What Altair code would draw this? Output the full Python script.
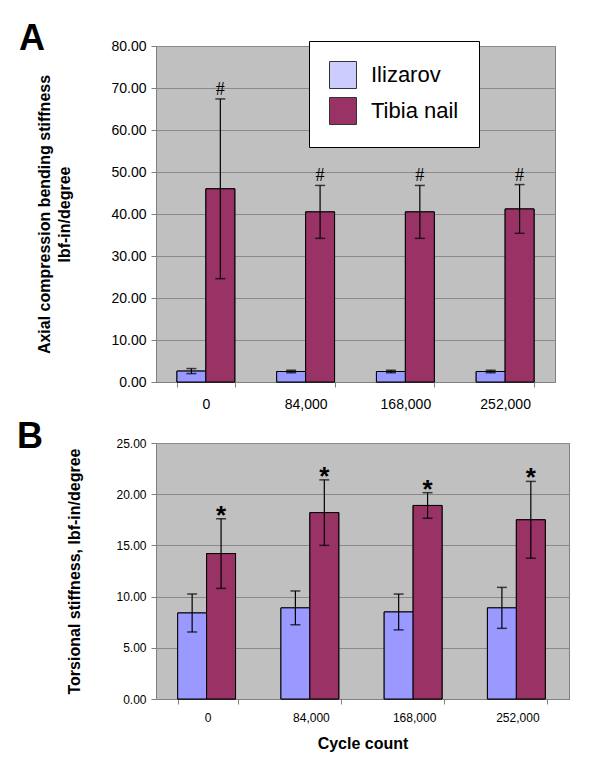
import altair as alt
import pandas as pd

cycles = ["0", "84,000", "168,000", "252,000"]
series = ["Ilizarov", "Tibia nail"]

# Panel A: axial compression bending stiffness (lbf-in/degree)
axial_ilizarov = [2.6, 2.5, 2.5, 2.5]
axial_ilizarov_err = [0.6, 0.3, 0.3, 0.3]
axial_tibia = [46.0, 40.5, 40.5, 41.2]
axial_tibia_err = [21.4, 6.3, 6.3, 5.8]
axial_marker = "#"

# Panel B: torsional stiffness (lbf-in/degree)
tors_ilizarov = [8.4, 8.9, 8.5, 8.9]
tors_ilizarov_err = [1.85, 1.65, 1.75, 2.0]
tors_tibia = [14.2, 18.2, 18.9, 17.5]
tors_tibia_err = [3.4, 3.2, 1.25, 3.75]
tors_marker = "*"

ILI_BAR = "#9999FF"
ILI_LEG = "#CCCCFF"
TIB = "#993366"
FONT = "Liberation Sans"


def make_df(ili, ili_err, tib, tib_err, marker):
    rows = []
    for c, v, e in zip(cycles, ili, ili_err):
        rows.append(dict(cycle=c, series=series[0], value=v, lo=v - e, hi=v + e, mark=""))
    for c, v, e in zip(cycles, tib, tib_err):
        rows.append(dict(cycle=c, series=series[1], value=v, lo=v - e, hi=v + e, mark=marker))
    return pd.DataFrame(rows)


def panel(df, ymax, ystep, ytitle, label_size, xtitle, title_letter, width, height,
          marker_font, marker_size, marker_weight, marker_dy, with_legend,
          ytitle_pad, xlabel_pad, letter_dx, letter_dy):
    xaxis = alt.Axis(
        labelAngle=0, labelFontSize=label_size, labelColor="black", labelFont=FONT,
        tickBand="extent", tickSize=5, tickColor="#808080", domainColor="#808080",
        labelPadding=xlabel_pad,
        title=xtitle if xtitle else None,
        titleFontSize=16, titleFont=FONT, titleFontWeight="bold", titleColor="black",
        titlePadding=12,
    )
    base = alt.Chart(df).encode(
        x=alt.X("cycle:N", sort=cycles, axis=xaxis,
                scale=alt.Scale(paddingInner=0.42, paddingOuter=0.21)),
        xOffset=alt.XOffset("series:N", sort=series,
                            scale=alt.Scale(domain=series, paddingInner=0, paddingOuter=0)),
    )
    yvals = [round(i * ystep, 2) for i in range(int(round(ymax / ystep)) + 1)]
    yenc = alt.Y(
        "value:Q",
        scale=alt.Scale(domain=[0, ymax], nice=False),
        axis=alt.Axis(
            values=yvals, format=".2f", labelFontSize=label_size, labelColor="black",
            labelFont=FONT, tickSize=5, tickColor="#808080", domainColor="#808080",
            gridColor="#8a8a8a", gridWidth=1, labelPadding=5,
            title=ytitle, titleFontSize=16, titleFont=FONT, titleFontWeight="bold",
            titleColor="black", titlePadding=ytitle_pad, titleLineHeight=20,
        ),
    )
    if with_legend:
        legend = alt.Legend(
            orient="none", legendX=153, legendY=-5, title=None,
            fillColor="white", strokeColor="black", padding=20,
            symbolType="square", symbolSize=729, symbolStrokeColor="#333333",
            symbolStrokeWidth=1, labelFontSize=22, labelFont=FONT, labelColor="black",
            labelOffset=14, rowPadding=4,
            labelExpr="datum.label + '\u2003\u2003'",
        )
    else:
        legend = None
    legend_bars = base.mark_bar(stroke="black", strokeWidth=1).encode(
        y=yenc,
        color=alt.Color("series:N", sort=series,
                        scale=alt.Scale(domain=series, range=[ILI_LEG, TIB]),
                        legend=legend),
    )
    bars = base.mark_bar(stroke="black", strokeWidth=1).encode(
        y=alt.Y("value:Q"),
        fill=alt.Fill("series:N", sort=series,
                      scale=alt.Scale(domain=series, range=[ILI_BAR, TIB]),
                      legend=None),
    )
    rules = base.mark_rule(color="black", strokeWidth=1.2).encode(
        y=alt.Y("lo:Q"), y2="hi:Q")
    cap_hi = base.mark_tick(color="black", size=10, thickness=1.5).encode(y=alt.Y("hi:Q"))
    cap_lo = base.mark_tick(color="black", size=10, thickness=1.5).encode(y=alt.Y("lo:Q"))
    marks = base.transform_filter("datum.mark != ''").mark_text(
        font=marker_font, fontSize=marker_size, fontWeight=marker_weight,
        baseline="alphabetic", dy=marker_dy, color="black",
    ).encode(y=alt.Y("hi:Q"), text="mark:N")
    layered = alt.layer(legend_bars, bars, rules, cap_hi, cap_lo, marks).resolve_scale(
        color="independent", fill="independent"
    ).properties(
        width=width, height=height,
        title=alt.TitleParams(title_letter, anchor="start", fontSize=36, font=FONT,
                              fontWeight="bold", color="black", dx=letter_dx, dy=letter_dy),
    )
    return layered


df_a = make_df(axial_ilizarov, axial_ilizarov_err, axial_tibia, axial_tibia_err, axial_marker)
df_b = make_df(tors_ilizarov, tors_ilizarov_err, tors_tibia, tors_tibia_err, tors_marker)

chart_a = panel(df_a, 80, 10, ["Axial compression bending stiffness", "lbf-in/degree"], 14,
                None, "A", 399, 336, "Liberation Serif", 18, "normal", -4, True,
                38, 10, -18, 23)
chart_b = panel(df_b, 25, 5, "Torsional stiffness, lbf-in/degree", 12,
                "Cycle count", "B", 413, 256, FONT, 26, "bold", 5, False,
                33, 8, -50, 23)

chart = alt.vconcat(chart_a, chart_b, spacing=6).properties(
    padding={"left": 8, "top": 12, "right": 5, "bottom": 5},
    background="white",
).configure_view(
    fill="#C0C0C0", stroke="#808080", strokeWidth=1
)

chart.save("out.html", embed_options={"renderer": "svg", "actions": False})
